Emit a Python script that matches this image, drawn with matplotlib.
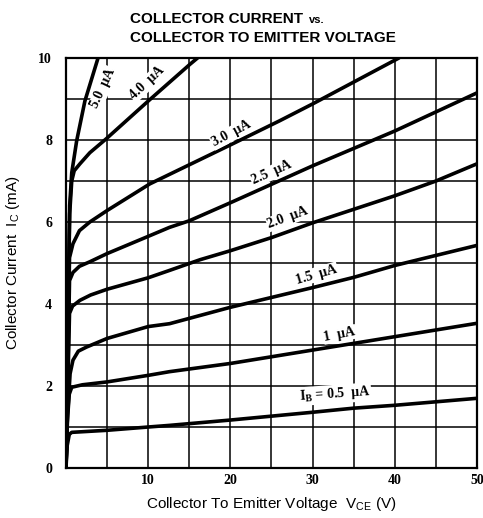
import numpy as np
import matplotlib.pyplot as plt
from matplotlib.ticker import MultipleLocator

# base current curves, VCE (V) vs IC (mA)
ib05_v = [0, 0.15, 0.4, 0.7, 5, 10, 12.6, 20, 30, 35, 40, 50]
ib05_i = [0, 0.55, 0.82, 0.87, 0.92, 1.0, 1.04, 1.17, 1.36, 1.46, 1.53, 1.70]

ib10_v = [0, 0.15, 0.4, 0.7, 2, 5, 10, 12.6, 20, 35, 50]
ib10_i = [0, 1.1, 1.8, 1.97, 2.03, 2.1, 2.26, 2.35, 2.55, 3.04, 3.53]

ib15_v = [0, 0.2, 0.5, 0.85, 1.5, 2.5, 5, 10, 12.6, 20, 30, 35, 40, 50]
ib15_i = [0, 1.3, 2.3, 2.63, 2.85, 2.95, 3.16, 3.45, 3.52, 3.92, 4.4, 4.65, 4.94, 5.43]

ib20_v = [0, 0.2, 0.43, 0.8, 1.7, 3.0, 5, 10, 12.6, 16.3, 20, 25, 30, 40, 45, 50]
ib20_i = [0, 1.8, 3.77, 3.95, 4.09, 4.22, 4.36, 4.64, 4.82, 5.08, 5.3, 5.62, 5.98, 6.64, 7.0, 7.42]

ib25_v = [0, 0.2, 0.43, 0.85, 1.64, 2.9, 5, 10, 12.6, 15, 20, 30, 40, 50]
ib25_i = [0, 2.0, 4.57, 4.77, 4.92, 5.03, 5.23, 5.65, 5.87, 6.03, 6.47, 7.37, 8.22, 9.15]

ib30_v = [0, 0.2, 0.43, 0.85, 1.64, 2.9, 5, 10.2, 20.2, 26, 30, 40.5]
ib30_i = [0, 2.5, 5.13, 5.47, 5.79, 6.0, 6.28, 6.93, 7.9, 8.47, 8.88, 10.0]

ib40_v = [0, 0.2, 0.45, 0.7, 1.0, 1.7, 2.9, 4.9, 10, 15.1, 16]
ib40_i = [0, 3.0, 6.2, 7.0, 7.25, 7.42, 7.69, 8.03, 8.95, 9.85, 10.0]

ib50_v = [0, 0.2, 0.45, 0.7, 1.3, 2.3, 3.9]
ib50_i = [0, 3.2, 6.4, 7.2, 7.98, 8.95, 10.0]

curves = [
    (ib05_v, ib05_i),
    (ib10_v, ib10_i),
    (ib15_v, ib15_i),
    (ib20_v, ib20_i),
    (ib25_v, ib25_i),
    (ib30_v, ib30_i),
    (ib40_v, ib40_i),
    (ib50_v, ib50_i),
]

# curve labels: text, V, I, angle
labels = [
    ("I$_{\\mathregular{B}}$ = 0.5  μA", 32.7, 1.8, 4),
    ("1  μA", 33.3, 3.26, 11),
    ("1.5  μA", 30.5, 4.72, 16),
    ("2.0  μA", 27.0, 6.1, 20),
    ("2.5  μA", 25.0, 7.2, 24),
    ("3.0  μA", 20.1, 8.15, 28),
    ("4.0  μA", 9.9, 9.39, 43),
    ("5.0  μA", 4.56, 9.27, 65),
]

fig = plt.figure(figsize=(4.83, 5.18), dpi=100)
ax = fig.add_axes([0.1366, 0.0965, 0.851, 0.7915])

for v, i in curves:
    ax.plot(v, i, color="black", lw=2.6, solid_joinstyle="round",
            solid_capstyle="round", zorder=3)

for txt, x, y, rot in labels:
    ax.text(x, y, txt, rotation=rot, rotation_mode="anchor", ha="center",
            va="center", fontsize=10, family="Liberation Serif", fontweight="bold",
            bbox=dict(fc="white", ec="none", pad=0.6), zorder=4)

ax.set_xlim(0, 50)
ax.set_ylim(0, 10)
ax.xaxis.set_major_locator(MultipleLocator(10))
ax.xaxis.set_minor_locator(MultipleLocator(5))
ax.yaxis.set_major_locator(MultipleLocator(2))
ax.yaxis.set_minor_locator(MultipleLocator(1))
ax.grid(True, which="both", color="black", lw=1.1, zorder=1)
ax.set_axisbelow(True)
ax.tick_params(which="both", length=0)
ax.tick_params(axis="y", pad=10)
ax.tick_params(axis="x", pad=4)
ax.set_xticks([10, 20, 30, 40, 50])
ax.set_xticklabels(["10", "20", "30", "40", "50"])
for lab in ax.get_xticklabels() + ax.get_yticklabels():
    lab.set_family("Liberation Serif")
    lab.set_fontweight("bold")
    lab.set_fontsize(10)
for s in ax.spines.values():
    s.set_linewidth(1.6)

ax.set_xlabel("Collector To Emitter Voltage  V$_{\\mathregular{CE}}$ (V)",
              family="Liberation Sans", fontsize=11, labelpad=6)
ax.set_ylabel("Collector Current  I$_{\\mathregular{C}}$ (mA)",
              family="Liberation Sans", fontsize=11, labelpad=12)

# title in two lines, small "vs."
t1 = fig.text(130 / 483, 1 - 23 / 518, "COLLECTOR CURRENT", family="Liberation Sans",
              fontweight="bold", fontsize=11, ha="left", va="baseline")
fig.canvas.draw()
bb = t1.get_window_extent(fig.canvas.get_renderer())
fig.text(bb.x1 / 483 + 0.012, 1 - 23 / 518, "vs.", family="Liberation Sans",
         fontweight="bold", fontsize=8, ha="left", va="baseline")
fig.text(130 / 483, 1 - 42 / 518, "COLLECTOR TO EMITTER VOLTAGE", family="Liberation Sans",
         fontweight="bold", fontsize=11, ha="left", va="baseline")

fig.savefig("out.png", dpi=100)
